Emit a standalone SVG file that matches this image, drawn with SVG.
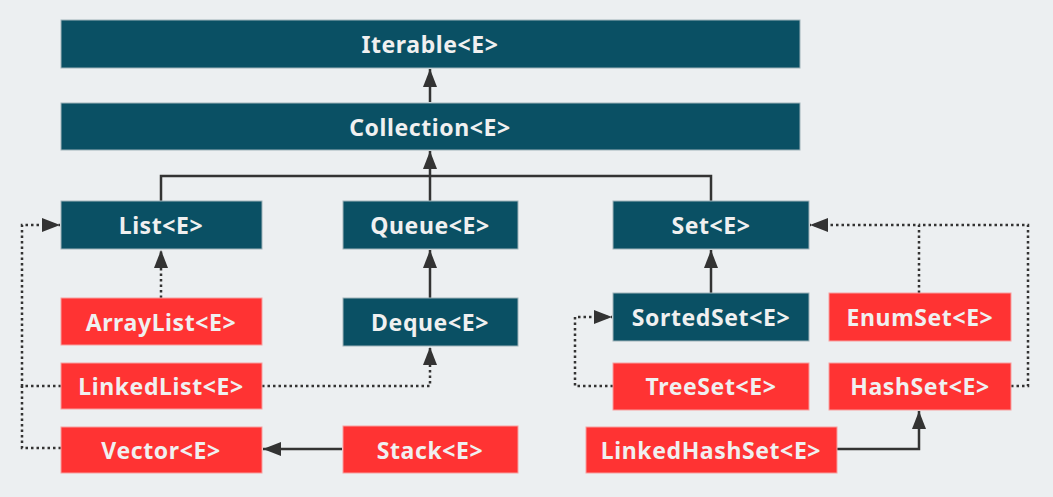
<svg xmlns="http://www.w3.org/2000/svg" width="1053" height="497" viewBox="0 0 1053 497">
<style>
.bg{fill:#ECEFF1}
.i rect{fill:#0A5064;stroke:#9FB3BA;stroke-width:1}
.c rect{fill:#FF3333;stroke:#F7A0A0;stroke-width:1}
text{font-family:"Noto Sans","Open Sans","DejaVu Sans",sans-serif;font-weight:bold;font-size:23px;letter-spacing:0.6px;fill:#F0F0F0;text-anchor:middle;dominant-baseline:central}
.ln{fill:none;stroke:#333;stroke-width:2.5}
.dt{fill:none;stroke:#333;stroke-width:2.5;stroke-dasharray:2.5 3}
</style>
<defs>
<marker id="ah" markerUnits="userSpaceOnUse" markerWidth="18" markerHeight="14" refX="18" refY="7" orient="auto">
<path d="M0,0 L18,7 L0,14 z" fill="#333"/>
</marker>
</defs>
<rect class="bg" x="0" y="0" width="1053" height="497"/>
<g id="connectors">
<path class="ln" d="M430,102 V69" marker-end="url(#ah)"/>
<path class="ln" d="M161,201 V176 H711 V201"/>
<path class="ln" d="M430,201 V151" marker-end="url(#ah)"/>
<path class="ln" d="M430,298 V250" marker-end="url(#ah)"/>
<path class="dt" d="M161,298 V250" marker-end="url(#ah)"/>
<path class="dt" d="M61,386 H22 V225 H60" marker-end="url(#ah)"/>
<path class="dt" d="M61,448 H22 V386"/>
<path class="dt" d="M262,386 H430 V347" marker-end="url(#ah)"/>
<path class="ln" d="M342,449 H263" marker-end="url(#ah)"/>
<path class="ln" d="M711,293 V250" marker-end="url(#ah)"/>
<path class="dt" d="M613,386 H575 V317 H612" marker-end="url(#ah)"/>
<path class="dt" d="M919,293 V225 H810" marker-end="url(#ah)"/>
<path class="dt" d="M1011,386 H1028 V225 H919"/>
<path class="ln" d="M837,449 H919 V411" marker-end="url(#ah)"/>
</g>
<g id="iterable" class="i"><rect x="61" y="20" width="739" height="48"/><text x="430" y="44">Iterable&lt;E&gt;</text></g>
<g id="collection" class="i"><rect x="61" y="103" width="739" height="47"/><text x="430" y="127">Collection&lt;E&gt;</text></g>
<g id="list" class="i"><rect x="61" y="201" width="201" height="48"/><text x="161" y="225">List&lt;E&gt;</text></g>
<g id="queue" class="i"><rect x="343" y="201" width="175" height="48"/><text x="430" y="225">Queue&lt;E&gt;</text></g>
<g id="set" class="i"><rect x="613" y="201" width="196" height="48"/><text x="711" y="225">Set&lt;E&gt;</text></g>
<g id="arraylist" class="c"><rect x="61" y="298" width="201" height="47"/><text x="161" y="322">ArrayList&lt;E&gt;</text></g>
<g id="deque" class="i"><rect x="343" y="298" width="175" height="48"/><text x="430" y="322">Deque&lt;E&gt;</text></g>
<g id="sortedset" class="i"><rect x="613" y="293" width="196" height="48"/><text x="711" y="317">SortedSet&lt;E&gt;</text></g>
<g id="enumset" class="c"><rect x="829" y="293" width="182" height="48"/><text x="920" y="317">EnumSet&lt;E&gt;</text></g>
<g id="linkedlist" class="c"><rect x="61" y="363" width="201" height="46"/><text x="161" y="386">LinkedList&lt;E&gt;</text></g>
<g id="treeset" class="c"><rect x="613" y="363" width="196" height="47"/><text x="711" y="386">TreeSet&lt;E&gt;</text></g>
<g id="hashset" class="c"><rect x="829" y="363" width="182" height="47"/><text x="920" y="386">HashSet&lt;E&gt;</text></g>
<g id="vector" class="c"><rect x="61" y="427" width="201" height="46"/><text x="161" y="450">Vector&lt;E&gt;</text></g>
<g id="stack" class="c"><rect x="343" y="426" width="175" height="47"/><text x="430" y="450">Stack&lt;E&gt;</text></g>
<g id="linkedhashset" class="c"><rect x="586" y="427" width="251" height="46"/><text x="711" y="450">LinkedHashSet&lt;E&gt;</text></g>
</svg>
